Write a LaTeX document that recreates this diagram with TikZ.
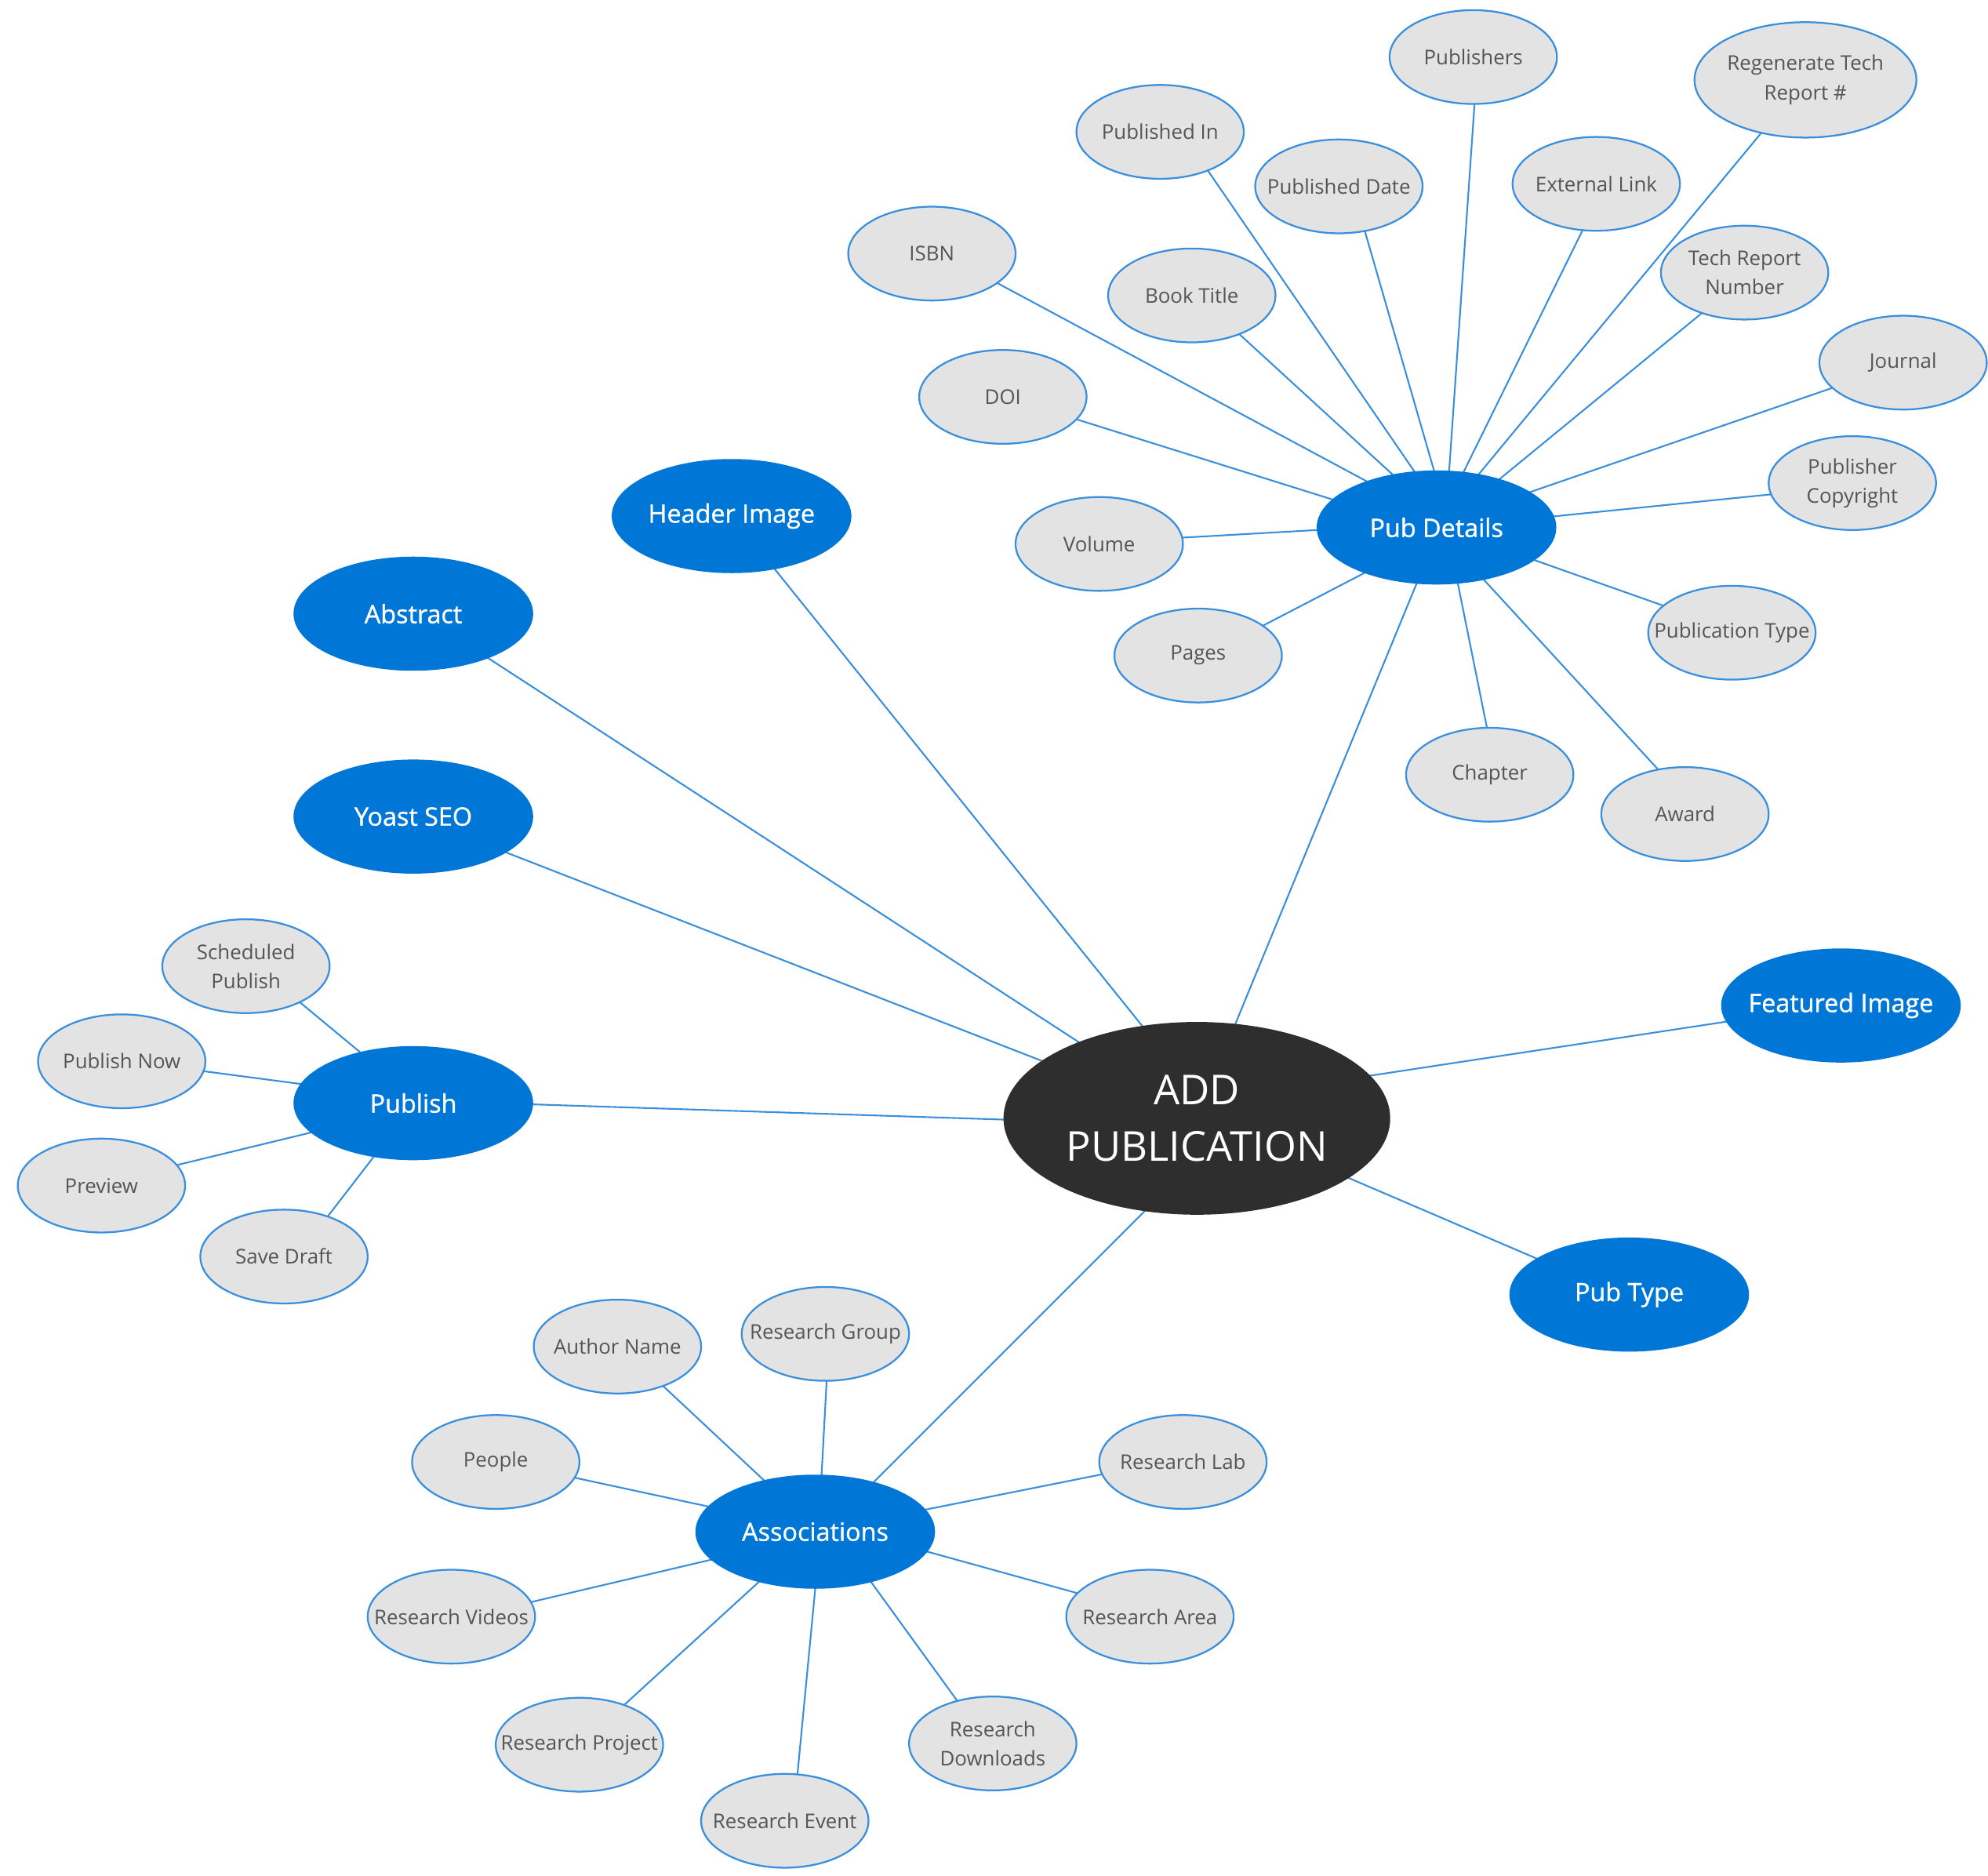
\documentclass[tikz,border=0pt]{standalone}
\usepackage{fontspec}
\setmainfont{Open Sans}
\newfontface\hubface{Open Sans}[FakeBold=1.0]
\usetikzlibrary{shapes.geometric,backgrounds,calc}
\definecolor{nodeblue}{HTML}{0077D6}
\definecolor{edgeblue}{HTML}{3A8FDC}
\definecolor{leafgray}{HTML}{E3E3E3}
\definecolor{textgray}{HTML}{555555}
\definecolor{rootdark}{HTML}{2E2E2E}
% connector from node #1 (border point offset #2,#3 from its centre)
% to node #4 (border point offset #5,#6 from its centre)
\newcommand\spokeline[6]{%
  \path ($(#1.center)+(#2,#3)$) coordinate (spA) ($(#4.center)+(#5,#6)$) coordinate (spB);
  \draw[conn] ($(spA)!-8pt!(spB)$) -- ($(spB)!-8pt!(spA)$);}
\begin{document}
\begin{tikzpicture}[x=1pt,y=-1pt,
  leaf/.style={ellipse, draw=edgeblue, line width=1.4pt, fill=leafgray, minimum width=132pt, minimum height=74pt, inner sep=0pt},
  bigleaf/.style={leaf, minimum width=175pt, minimum height=91pt},
  leaftext/.style={text=textgray, font=\fontsize{16}{23}\selectfont, align=center, inner sep=0pt},
  hub/.style={ellipse, fill=nodeblue, minimum width=189pt, minimum height=90pt, inner sep=0pt},
  hubtext/.style={text=white, font=\hubface\fontsize{20}{24}\selectfont, inner sep=0pt},
  rootnode/.style={ellipse, fill=rootdark, minimum width=305pt, minimum height=152pt, inner sep=0pt},
  roottext/.style={text=white, font=\fontsize{32.5}{44}\selectfont, align=center, inner sep=0pt},
  conn/.style={draw=edgeblue, line width=1.3pt}]
\useasboundingbox (0,0) rectangle (1568,1479);

% root and hubs
\node[rootnode, label={[roottext]center:ADD\\PUBLICATION}] (root) at (944,882) {};
\node[hub, label={[hubtext]center:Header Image}] (header) at (577,407) {};
\node[hub, label={[hubtext]center:Abstract}] (abstract) at (326,484) {};
\node[hub, label={[hubtext]center:Yoast SEO}] (yoast) at (326,644) {};
\node[hub, label={[hubtext]center:Publish}] (publish) at (326,870) {};
\node[hub, label={[hubtext]center:Pub Details}] (pubdetails) at (1133,416) {};
\node[hub, label={[hubtext]center:Featured Image}] (featured) at (1452,793) {};
\node[hub, label={[hubtext]center:Pub Type}] (pubtype) at (1285,1021) {};
\node[hub, label={[hubtext]center:Associations}] (assoc) at (643,1208) {};

% pub details leaves
\node[leaf, label={[leaftext]center:Publishers}] (publishers) at (1162,45) {};
\node[bigleaf, label={[leaftext]center:Regenerate Tech\\Report \#}] (regen) at (1424,63) {};
\node[leaf, label={[leaftext]center:Published In}] (pubin) at (915,104) {};
\node[leaf, label={[leaftext]center:Published Date}] (pubdate) at (1056,147) {};
\node[leaf, label={[leaftext]center:External Link}] (extlink) at (1259,145) {};
\node[leaf, label={[leaftext]center:ISBN}] (isbn) at (735,200) {};
\node[leaf, label={[leaftext]center:Book Title}] (booktitle) at (940,233) {};
\node[leaf, label={[leaftext]center:Tech Report\\Number}] (techrep) at (1376,215) {};
\node[leaf, label={[leaftext]center:Journal}] (journal) at (1501,286) {};
\node[leaf, label={[leaftext]center:DOI}] (doi) at (791,313) {};
\node[leaf, label={[leaftext]center:Publisher\\Copyright}] (pubcopy) at (1461,381) {};
\node[leaf, label={[leaftext]center:Volume}] (volume) at (867,429) {};
\node[leaf, label={[leaftext]center:Pages}] (pages) at (945,517) {};
\node[leaf, label={[leaftext]center:Publication Type}] (pubtypeleaf) at (1366,499) {};
\node[leaf, label={[leaftext]center:Chapter}] (chapter) at (1175,611) {};
\node[leaf, label={[leaftext]center:Award}] (award) at (1329,642) {};

% publish leaves
\node[leaf, label={[leaftext]center:Scheduled\\Publish}] (scheduled) at (194,762) {};
\node[leaf, label={[leaftext]center:Publish Now}] (pubnow) at (96,837) {};
\node[leaf, label={[leaftext]center:Preview}] (preview) at (80,935) {};
\node[leaf, label={[leaftext]center:Save Draft}] (savedraft) at (224,991) {};

% association leaves
\node[leaf, label={[leaftext]center:Author Name}] (author) at (487,1062) {};
\node[leaf, label={[leaftext]center:Research Group}] (rgroup) at (651,1052) {};
\node[leaf, label={[leaftext]center:People}] (people) at (391,1153) {};
\node[leaf, label={[leaftext]center:Research Lab}] (rlab) at (933,1153) {};
\node[leaf, label={[leaftext]center:Research Videos}] (rvideos) at (356,1275) {};
\node[leaf, label={[leaftext]center:Research Area}] (rarea) at (907,1275) {};
\node[leaf, label={[leaftext]center:Research Project}] (rproject) at (457,1376) {};
\node[leaf, label={[leaftext]center:Research\\Downloads}] (rdownloads) at (783,1375) {};
\node[leaf, label={[leaftext]center:Research Event}] (revent) at (619,1436) {};

% connectors (behind the nodes)
\begin{scope}[on background layer]
% root to hubs
\spokeline{header}{35}{43}{root}{-44}{-74}
\spokeline{abstract}{59}{35}{root}{-93}{-60}
\spokeline{yoast}{75}{29}{root}{-124}{-46}
\spokeline{publish}{95}{1}{root}{-152}{1}
\spokeline{pubdetails}{-16}{45}{root}{31}{-76}
\spokeline{featured}{-92}{13}{root}{139}{-34}
\spokeline{pubtype}{-72}{-28}{root}{122}{48}
\spokeline{assoc}{47}{-40}{root}{-41}{73}
% pub details
\spokeline{isbn}{53}{24}{pubdetails}{-58}{-38}
\spokeline{doi}{59}{18}{pubdetails}{-85}{-23}
\spokeline{booktitle}{38}{31}{pubdetails}{-36}{-43}
\spokeline{pubin}{38}{31}{pubdetails}{-18}{-45}
\spokeline{pubdate}{21}{37}{pubdetails}{-2}{-45}
\spokeline{publishers}{1}{37}{pubdetails}{10}{-45}
\spokeline{extlink}{-11}{37}{pubdetails}{22}{-45}
\spokeline{regen}{-35}{42}{pubdetails}{35}{-44}
\spokeline{techrep}{-35}{33}{pubdetails}{52}{-40}
\spokeline{journal}{-56}{20}{pubdetails}{77}{-29}
\spokeline{pubcopy}{-65}{9}{pubdetails}{95}{-9}
\spokeline{volume}{66}{-5}{pubdetails}{-94}{2}
\spokeline{pages}{52}{-24}{pubdetails}{-59}{37}
\spokeline{pubtypeleaf}{-56}{-22}{pubdetails}{78}{26}
\spokeline{chapter}{-2}{-36}{pubdetails}{17}{45}
\spokeline{award}{-22}{-36}{pubdetails}{39}{43}
% publish
\spokeline{scheduled}{42}{28}{publish}{-43}{-41}
\spokeline{pubnow}{66}{8}{publish}{-88}{-15}
\spokeline{preview}{63}{-17}{publish}{-80}{23}
\spokeline{savedraft}{34}{-31}{publish}{-31}{42}
% associations
\spokeline{author}{37}{32}{assoc}{-42}{-42}
\spokeline{rgroup}{1}{37}{assoc}{5}{-45}
\spokeline{people}{65}{13}{assoc}{-85}{-20}
\spokeline{rlab}{-65}{10}{assoc}{90}{-18}
\spokeline{rvideos}{65}{-12}{assoc}{-86}{23}
\spokeline{rarea}{-59}{-19}{assoc}{93}{17}
\spokeline{rproject}{36}{-32}{assoc}{-46}{41}
\spokeline{revent}{10}{-37}{assoc}{0}{45}
\spokeline{rdownloads}{-29}{-35}{assoc}{45}{41}
\end{scope}
\end{tikzpicture}
\end{document}
